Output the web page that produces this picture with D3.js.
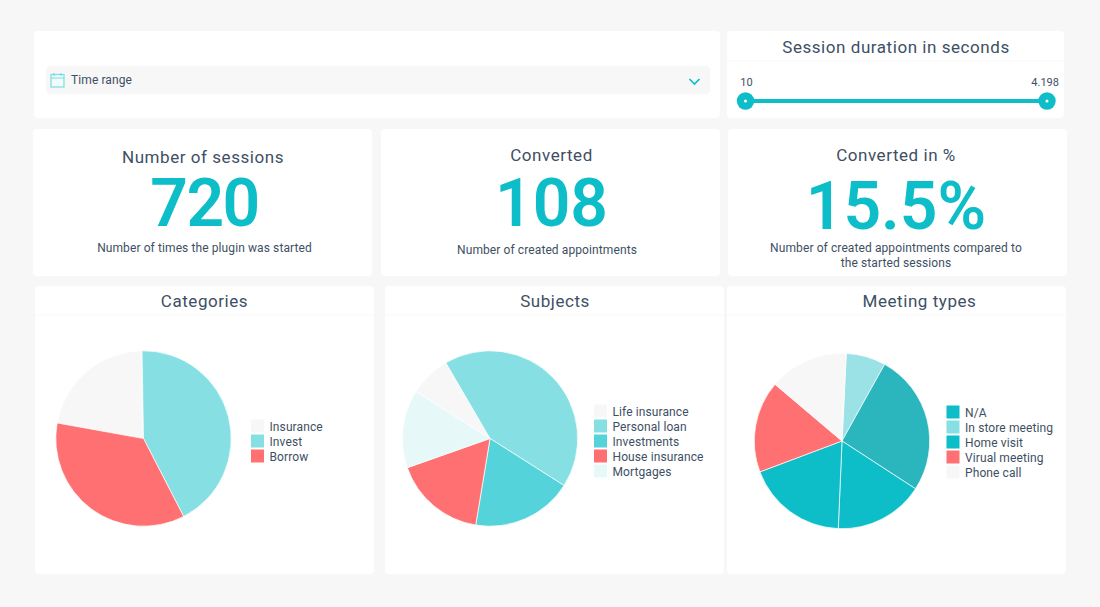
<!DOCTYPE html>
<html>
<head>
<meta charset="utf-8">
<script src="https://cdn.jsdelivr.net/npm/d3@7"></script>
<style>
  html, body { margin: 0; padding: 0; background: #f7f7f7; }
  svg { display: block; }
  text { font-family: Roboto, "Open Sans", sans-serif; fill: #3e4f64; }
</style>
</head>
<body>
<div id="dashboard"></div>
<script>
// chart data
var categoryNames = ["Insurance", "Invest", "Borrow"];
var categoryValues = [21.9, 42.7, 35.4];

var subjectNames = ["Life insurance", "Personal loan", "Investments", "House insurance", "Mortgages"];
var subjectValues = [7.6, 42.4, 18.6, 17.0, 14.4];

var meetingNames = ["N/A", "In store meeting", "Home visit", "Virual meeting", "Phone call"];
// the picture has six slices, the legend only five
var meetingSlices = ["In store meeting", "", "N/A", "Home visit", "Virual meeting", "Phone call"];
var meetingValues = [7.3, 26.1, 16.5, 18.6, 16.9, 14.6];

var sliderRange = [10, 4198];
var sliderLabels = ["10", "4.198"];

var kpiTitles = ["Number of sessions", "Converted", "Converted in %"];
var kpiValues = ["720", "108", "15.5%"];
var kpiNotes = [
  ["Number of times the plugin was started"],
  ["Number of created appointments"],
  ["Number of created appointments compared to", "the started sessions"]
];

// colours
var teal = "#0dbec8";
var categoryColors = ["#f7f7f7", "#86dfe3", "#ff7072"];
var subjectColors = ["#f7f7f7", "#86dfe3", "#55d3da", "#ff7072", "#e7f8f9"];
var meetingSliceColors = ["#9be2e6", "#2bb5bd", teal, teal, "#ff7072", "#f7f7f7"];
var meetingLegendColors = [teal, "#86dfe3", teal, "#ff7072", "#f7f7f7"];

var svg = d3.select("#dashboard")
  .append("svg")
  .attr("width", 1100)
  .attr("height", 607);

function card(x, y, w, h) {
  svg.append("rect")
    .attr("x", x).attr("y", y)
    .attr("width", w).attr("height", h)
    .attr("rx", 4)
    .attr("fill", "#fff");
}

function label(txt, x, y, size, anchor, spacing) {
  return svg.append("text")
    .attr("x", x).attr("y", y)
    .attr("font-size", size)
    .attr("text-anchor", anchor || "start")
    .attr("letter-spacing", spacing || 0)
    .text(txt);
}

// time range card
card(34, 31, 686, 87);
svg.append("rect")
  .attr("x", 46).attr("y", 66)
  .attr("width", 664).attr("height", 28)
  .attr("rx", 4)
  .attr("fill", "#f7f7f7");

var calendar = svg.append("g")
  .attr("transform", "translate(50.5, 73)")
  .attr("fill", "none")
  .attr("stroke", "#7adde2")
  .attr("stroke-width", 1.2);
calendar.append("rect").attr("x", 0.5).attr("y", 1.5).attr("width", 13).attr("height", 12.5).attr("fill", "#f2fbfc");
calendar.append("path").attr("d", "M0.5 5H13.5M3.5 0V3M10.5 0V3");

label("Time range", 71, 84, 12, "start", 0.1);
svg.append("path")
  .attr("d", "M689.5 79L694.5 84L699.5 79")
  .attr("fill", "none")
  .attr("stroke", teal)
  .attr("stroke-width", 1.7);

// session duration card
card(727, 31, 337, 87);
svg.append("line")
  .attr("x1", 727).attr("x2", 1064)
  .attr("y1", 61).attr("y2", 61)
  .attr("stroke", "#f7f7f7");
label("Session duration in seconds", 896, 53, 17, "middle", 0.55);

var sliderX = d3.scaleLinear().domain(sliderRange).range([745.5, 1047]);
svg.append("line")
  .attr("x1", sliderX(sliderRange[0])).attr("x2", sliderX(sliderRange[1]))
  .attr("y1", 101).attr("y2", 101)
  .attr("stroke", teal)
  .attr("stroke-width", 4);
svg.selectAll(".handle")
  .data(sliderRange)
  .enter()
  .append("circle")
  .attr("class", "handle")
  .attr("cx", d => sliderX(d))
  .attr("cy", 101)
  .attr("r", 8.7)
  .attr("fill", teal);
svg.selectAll(".handle-dot")
  .data(sliderRange)
  .enter()
  .append("circle")
  .attr("class", "handle-dot")
  .attr("cx", d => sliderX(d))
  .attr("cy", 101)
  .attr("r", 1.5)
  .attr("fill", "#fff");
label(sliderLabels[0], 746.5, 86, 11, "middle");
label(sliderLabels[1], 1059, 86, 11, "end");

// kpi cards
var kpiCards = [
  { x: 33, cx: 204.5, titleY: 163, valueY: 226, noteY: 252 },
  { x: 381, cx: 551.5, titleY: 161, valueY: 226, noteY: 254 },
  { x: 728, cx: 896, titleY: 161, valueY: 229, noteY: 252 }
];
kpiCards.forEach(function(c, i) {
  card(c.x, 129, 339, 147);
  label(kpiTitles[i], c.cx - (i == 0 ? 1.5 : 0), c.titleY, 17, "middle", 0.55);
  label(kpiValues[i], c.cx, c.valueY, 66, "middle", i == 0 ? -1.5 : 0)
    .attr("font-weight", 600)
    .style("fill", teal);
  kpiNotes[i].forEach(function(line, j) {
    label(line, c.cx + (i == 1 ? -4.5 : 0), c.noteY + j * 15, 12, "middle", 0.1);
  });
});

// pie cards
function piePanel(o) {
  card(o.x, 286, 339, 288);
  svg.append("line")
    .attr("x1", o.x).attr("x2", o.x + 339)
    .attr("y1", 315).attr("y2", 315)
    .attr("stroke", "#f9f9f9");
  label(o.title, o.titleX, 307, 17, "middle", 0.55);

  var pie = d3.pie()
    .sort(null)
    .startAngle(o.start * Math.PI / 180)
    .endAngle((o.start + 360) * Math.PI / 180);
  var arc = d3.arc().innerRadius(0).outerRadius(87.7);

  svg.append("g")
    .attr("transform", `translate(${o.cx}, ${o.cy})`)
    .selectAll("path")
    .data(pie(o.values))
    .enter()
    .append("path")
    .attr("d", arc)
    .attr("fill", (d, i) => o.colors[i])
    .attr("stroke", "#fff")
    .attr("stroke-width", 0.7);

  var legend = svg.append("g")
    .attr("transform", `translate(${o.legendX}, ${o.legendY})`);
  var rows = legend.selectAll("g")
    .data(o.names)
    .enter()
    .append("g")
    .attr("transform", (d, i) => `translate(0, ${i * 15})`);
  rows.append("rect")
    .attr("y", -6.5)
    .attr("width", 13)
    .attr("height", 13)
    .attr("fill", (d, i) => o.legendColors[i]);
  rows.append("text")
    .attr("x", 18.5)
    .attr("y", 4.5)
    .attr("font-size", 12)
    .attr("letter-spacing", 0.1)
    .text(d => d);
}

piePanel({
  x: 35, title: "Categories", titleX: 204.5, cx: 143.5, cy: 438.5, start: 280.2,
  values: categoryValues, colors: categoryColors,
  names: categoryNames, legendColors: categoryColors, legendX: 251, legendY: 426
});
piePanel({
  x: 385, title: "Subjects", titleX: 555, cx: 490, cy: 438.5, start: 302.4,
  values: subjectValues, colors: subjectColors,
  names: subjectNames, legendColors: subjectColors, legendX: 594, legendY: 411
});
piePanel({
  x: 727, title: "Meeting types", titleX: 919.5, cx: 842, cy: 441, start: 2.8,
  values: meetingValues, colors: meetingSliceColors,
  names: meetingNames, legendColors: meetingLegendColors, legendX: 946.5, legendY: 412
});
</script>
</body>
</html>
